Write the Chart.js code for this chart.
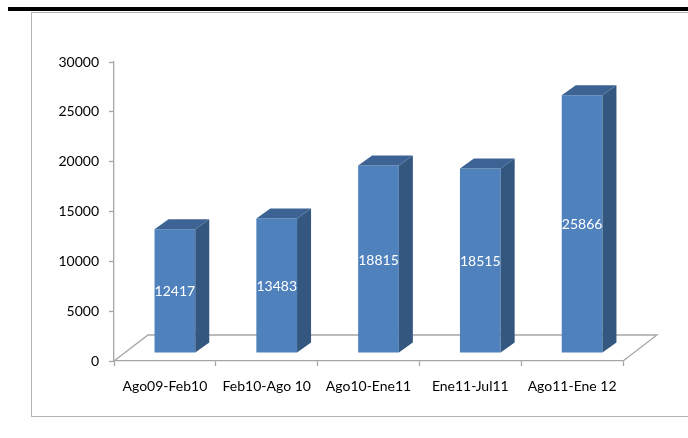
<!DOCTYPE html>
<html>
<head>
<meta charset="utf-8">
<script src="https://cdn.jsdelivr.net/npm/chart.js@4.4.1/dist/chart.umd.min.js"></script>
<style>
  html, body { margin: 0; padding: 0; background: #ffffff; }
  body { width: 688px; height: 438px; position: relative; overflow: hidden; }
  #rule { position: absolute; left: 8px; top: 7px; right: -20px; height: 4px; background: #000; }
  #frame { position: absolute; left: 31px; top: 12px; right: -60px; height: 403px; border: 1.5px solid #b4b4b4; }
  #wrap { position: absolute; left: 0; top: 0; width: 688px; height: 438px; }
</style>
</head>
<body>
<div id="rule"></div>
<div id="frame"></div>
<div id="wrap"><canvas id="chart"></canvas></div>
<script>
var periodos = ['Ago09-Feb10', 'Feb10-Ago 10', 'Ago10-Ene11', 'Ene11-Jul11', 'Ago11-Ene 12'];
var alumnos = [12417, 13483, 18815, 18515, 25866];
var yMin = 0, yMax = 30000, yStep = 5000;

// 3d look
var floorDX = 34, floorDY = 26;
var barDX = 10, barDY = 8;     // front face offset from floor front edge
var sideDX = 14, sideDY = 10;  // bar depth
var frontColor = '#4f81bd', sideColor = '#34577f', topColor = '#3c6393';
var lineColor = '#a6a6a6';
var fontFam = 'Lato, "Open Sans", sans-serif';

var bar3d = {
    id: 'bar3d',
    beforeDatasetsDraw: function(chart) {
        var ctx = chart.ctx, a = chart.chartArea;
        ctx.save();
        ctx.strokeStyle = lineColor;
        ctx.lineWidth = 1.3;
        ctx.beginPath();
        ctx.moveTo(a.left, a.bottom);
        ctx.lineTo(a.left + floorDX, a.bottom - floorDY);
        ctx.lineTo(a.right + floorDX, a.bottom - floorDY);
        ctx.lineTo(a.right, a.bottom);
        ctx.stroke();
        ctx.restore();
        ctx.save();
        ctx.translate(barDX, -barDY);
    },
    afterDatasetsDraw: function(chart) {
        var ctx = chart.ctx;
        var meta = chart.getDatasetMeta(0);
        meta.data.forEach(function(bar, i) {
            var p = bar.getProps(['x', 'y', 'base', 'width'], true);
            var l = p.x - p.width / 2, r = p.x + p.width / 2;
            // side
            ctx.fillStyle = sideColor;
            ctx.beginPath();
            ctx.moveTo(r, p.y);
            ctx.lineTo(r + sideDX, p.y - sideDY);
            ctx.lineTo(r + sideDX, p.base - sideDY);
            ctx.lineTo(r, p.base);
            ctx.closePath();
            ctx.fill();
            // top
            ctx.fillStyle = topColor;
            ctx.beginPath();
            ctx.moveTo(l, p.y);
            ctx.lineTo(l + sideDX, p.y - sideDY);
            ctx.lineTo(r + sideDX, p.y - sideDY);
            ctx.lineTo(r, p.y);
            ctx.closePath();
            ctx.fill();
            // value
            ctx.fillStyle = '#ffffff';
            ctx.font = '14px ' + fontFam;
            ctx.textAlign = 'center';
            ctx.textBaseline = 'middle';
            ctx.fillText(String(alumnos[i]), p.x, (p.y + p.base) / 2 + 1);
        });
        ctx.restore();
    }
};

var ctx = document.getElementById('chart');
new Chart(ctx, {
    type: 'bar',
    data: {
        labels: periodos,
        datasets: [{
            data: alumnos,
            backgroundColor: frontColor,
            borderWidth: 0,
            barPercentage: 0.4,
            categoryPercentage: 1
        }]
    },
    options: {
        responsive: true,
        maintainAspectRatio: false,
        animation: false,
        layout: { padding: { top: 62, right: 65, bottom: 0, left: 0 } },
        plugins: { legend: { display: false }, tooltip: { enabled: false } },
        scales: {
            x: {
                grid: { drawOnChartArea: false, color: lineColor, tickLength: 5, tickWidth: 1.3 },
                border: { color: lineColor, width: 1.3 },
                ticks: { color: '#000', padding: 12, maxRotation: 0, font: { family: fontFam, size: 14 } },
                afterFit: function(s) { s.height = 77; }
            },
            y: {
                min: yMin, max: yMax,
                grid: { drawOnChartArea: false, color: lineColor, tickLength: 5, tickWidth: 1.3 },
                border: { color: lineColor, width: 1.3 },
                ticks: {
                    stepSize: yStep, color: '#000', padding: 10,
                    font: { family: fontFam, size: 14 },
                    callback: function(v) { return String(v); }
                },
                afterFit: function(s) { s.width = 114; }
            }
        }
    },
    plugins: [bar3d]
});
</script>
</body>
</html>
